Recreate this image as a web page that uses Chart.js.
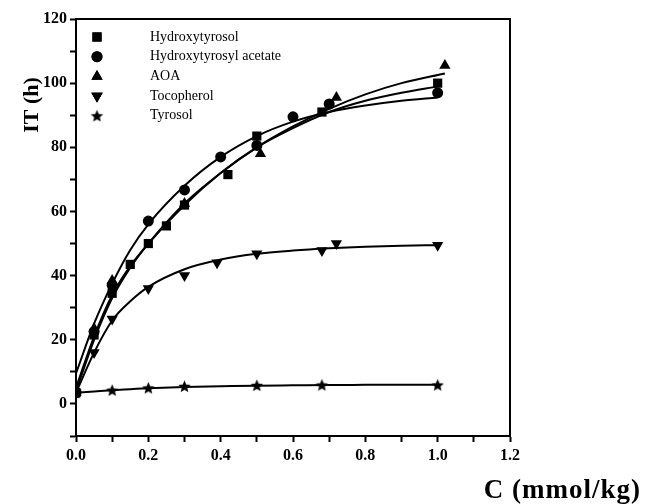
<!DOCTYPE html>
<html>
<head>
<meta charset="utf-8">
<script src="https://cdn.jsdelivr.net/npm/chart.js@4.4.1/dist/chart.umd.min.js"></script>
<style>
  html, body { margin: 0; padding: 0; background: #fff; }
  #wrap { width: 654px; height: 504px; }
</style>
</head>
<body>
<div id="wrap"><canvas id="c" width="654" height="504"></canvas></div>
<script>
const htX  = [0, 0.05, 0.1, 0.15, 0.2, 0.25, 0.3, 0.42, 0.5, 0.68, 1.0];
const htY  = [3.5, 21.5, 34.5, 43.5, 50, 55.5, 62, 71.5, 83.5, 91, 100];
const htaX = [0, 0.05, 0.1, 0.2, 0.3, 0.4, 0.5, 0.6, 0.7, 1.0];
const htaY = [3.5, 22.5, 37, 57, 66.7, 77, 80.6, 89.5, 93.5, 97];
const aoaX = [0, 0.05, 0.1, 0.3, 0.51, 0.72, 1.02];
const aoaY = [3.5, 23.5, 38.5, 62.5, 78, 95.5, 105.5];
const tocX = [0, 0.05, 0.1, 0.2, 0.3, 0.39, 0.5, 0.68, 0.72, 1.0];
const tocY = [3.5, 16, 26.5, 36, 40, 44, 46.8, 47.8, 50, 49.5];
const tyX  = [0, 0.1, 0.2, 0.3, 0.5, 0.68, 1.0];
const tyY  = [3.5, 4.3, 5, 5.5, 5.8, 5.9, 5.9];

// fitted curves at these C values
const fitX    = [0, 0.05, 0.1, 0.15, 0.2, 0.3, 0.4, 0.5, 0.6, 0.7, 0.8, 0.9, 1.0];
const htFit   = [5, 21, 34, 43, 50, 62, 72, 80, 86, 91, 94.5, 97, 99];
const htaFit  = [9.5, 25, 37.5, 48, 56, 68, 77, 83.5, 88, 91, 93, 94.5, 95.5];
const aoaFitX = [0, 0.05, 0.1, 0.15, 0.2, 0.3, 0.4, 0.5, 0.6, 0.7, 0.8, 0.9, 1.02];
const aoaFit  = [4, 20, 33, 42.5, 50, 62.5, 72, 80, 86.5, 92, 96.5, 100, 103];
const tocFit  = [3.5, 16, 26, 32, 36.5, 42, 45, 46.8, 47.8, 48.5, 49, 49.3, 49.5];
const tyFit   = [3.5, 3.9, 4.3, 4.6, 4.9, 5.3, 5.5, 5.7, 5.8, 5.9, 5.95, 6, 6];

const labels = ['Hydroxytyrosol', 'Hydroxytyrosyl acetate', 'AOA', 'Tocopherol', 'Tyrosol'];

const pts = (xs, ys) => xs.map((x, i) => ({ x, y: ys[i] }));

// filled star marker
function starCanvas(r) {
  const c = document.createElement('canvas');
  c.width = c.height = Math.ceil(r * 2 + 2);
  const g = c.getContext('2d');
  g.fillStyle = '#000';
  g.beginPath();
  for (let i = 0; i < 10; i++) {
    const rad = i % 2 ? r * 0.45 : r;
    const a = -Math.PI / 2 + i * Math.PI / 5;
    g.lineTo(c.width / 2 + rad * Math.cos(a), c.height / 2 + 0.5 + rad * Math.sin(a));
  }
  g.closePath();
  g.fill();
  return c;
}
const star = starCanvas(6.5);

const markers = [
  { style: 'rect', rot: 0, r: 6.5 },
  { style: 'circle', rot: 0, r: 5.5 },
  { style: 'triangle', rot: 0, r: 6.5 },
  { style: 'triangle', rot: 180, r: 6.5 },
  { style: star, rot: 0, r: 7 }
];

const fit = (xs, ys) => ({
  type: 'line', data: pts(xs, ys), borderColor: '#000', borderWidth: 2,
  pointRadius: 0, cubicInterpolationMode: 'monotone', fill: false, order: 2
});
const scat = (xs, ys, i) => ({
  type: 'scatter', label: labels[i], data: pts(xs, ys),
  pointStyle: markers[i].style, rotation: markers[i].rot,
  pointRadius: markers[i].r, backgroundColor: '#000', borderColor: '#000',
  borderWidth: 0, order: 1
});

const datasets = [
  fit(fitX, htFit), fit(fitX, htaFit), fit(aoaFitX, aoaFit), fit(fitX, tocFit), fit(fitX, tyFit),
  scat(htX, htY, 0), scat(htaX, htaY, 1), scat(aoaX, aoaY, 2), scat(tocX, tocY, 3), scat(tyX, tyY, 4)
];

const tickFont = { family: 'Liberation Serif', weight: 'bold', size: 16 };

const frameAndText = {
  id: 'frameAndText',
  afterDraw(chart) {
    const { ctx, chartArea: a } = chart;
    ctx.save();
    ctx.strokeStyle = '#000';
    ctx.lineWidth = 2;
    ctx.strokeRect(a.left, a.top, a.right - a.left, a.bottom - a.top);

    // legend
    ctx.font = '14px "Liberation Serif"';
    ctx.fillStyle = '#000';
    ctx.textBaseline = 'middle';
    labels.forEach((t, i) => {
      const y = 37 + i * 19.7;
      const m = markers[i];
      Chart.helpers.drawPoint(ctx, { pointStyle: m.style, rotation: m.rot, radius: m.r, borderWidth: 0 }, 97, y);
      ctx.fill();
      ctx.fillText(t, 150, y);
    });

    // axis titles
    ctx.font = 'bold 22px "Liberation Serif"';
    ctx.textAlign = 'center';
    ctx.textBaseline = 'alphabetic';
    ctx.save();
    ctx.translate(38, 105);
    ctx.rotate(-Math.PI / 2);
    ctx.fillText('IT (h)', 0, 0);
    ctx.restore();
    ctx.font = 'bold 27px "Liberation Serif"';
    ctx.letterSpacing = '1px';
    ctx.textAlign = 'right';
    ctx.fillText('C (mmol/kg)', 641, 498);
    ctx.restore();
  }
};

new Chart(document.getElementById('c'), {
  data: { datasets },
  options: {
    responsive: false,
    animation: false,
    layout: { padding: { top: 19, right: 144, left: 0, bottom: 0 } },
    plugins: { legend: { display: false }, tooltip: { enabled: false } },
    scales: {
      x: {
        type: 'linear', min: 0, max: 1.2,
        border: { color: '#000', width: 2 },
        grid: { drawOnChartArea: false, color: '#000', tickLength: 6, tickWidth: 2 },
        ticks: {
          stepSize: 0.1, color: '#000', font: tickFont, maxRotation: 0, padding: 4,
          callback: v => (Math.round(v * 10) % 2 === 0 ? v.toFixed(1) : '')
        },
        afterFit: s => { s.height = 68; }
      },
      y: {
        type: 'linear', min: -10, max: 120,
        border: { color: '#000', width: 2 },
        grid: { drawOnChartArea: false, color: '#000', tickLength: 6, tickWidth: 2 },
        ticks: {
          stepSize: 10, color: '#000', font: tickFont, padding: 3,
          callback: v => (v >= 0 && v % 20 === 0 ? String(v) : '')
        },
        afterFit: s => { s.width = 76; }
      }
    }
  },
  plugins: [frameAndText]
});
</script>
</body>
</html>
